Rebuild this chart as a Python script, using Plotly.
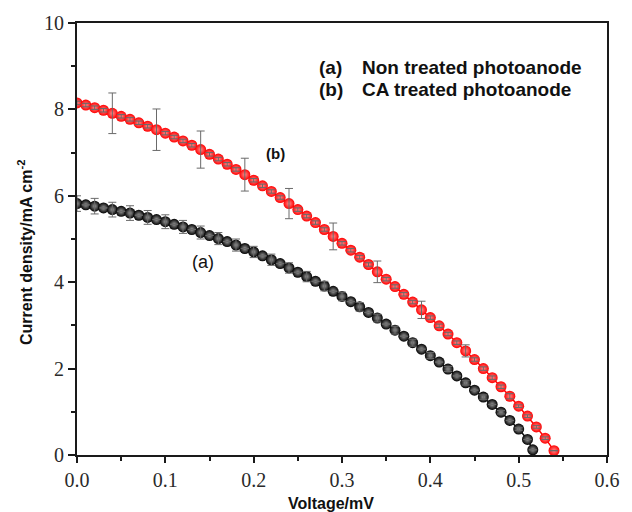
import plotly.graph_objects as go

# (a) Non treated photoanode: J-V points
voltage_a = [0.00, 0.01, 0.02, 0.03, 0.04, 0.05, 0.06, 0.07, 0.08, 0.09,
             0.10, 0.11, 0.12, 0.13, 0.14, 0.15, 0.16, 0.17, 0.18, 0.19,
             0.20, 0.21, 0.22, 0.23, 0.24, 0.25, 0.26, 0.27, 0.28, 0.29,
             0.30, 0.31, 0.32, 0.33, 0.34, 0.35, 0.36, 0.37, 0.38, 0.39,
             0.40, 0.41, 0.42, 0.43, 0.44, 0.45, 0.46, 0.47, 0.48, 0.49,
             0.50, 0.51, 0.516]
current_a = [5.82, 5.79, 5.76, 5.72, 5.68, 5.64, 5.60, 5.55, 5.50, 5.45,
             5.40, 5.34, 5.28, 5.22, 5.15, 5.08, 5.01, 4.94, 4.86, 4.78,
             4.70, 4.61, 4.52, 4.43, 4.33, 4.23, 4.13, 4.02, 3.91, 3.79,
             3.67, 3.55, 3.43, 3.30, 3.17, 3.03, 2.89, 2.75, 2.60, 2.45,
             2.30, 2.15, 1.99, 1.83, 1.67, 1.50, 1.34, 1.17, 0.99, 0.80,
             0.60, 0.36, 0.12]
err_a = [0.18, 0, 0.18, 0, 0.17, 0, 0.17, 0, 0.16, 0,
         0.16, 0, 0.15, 0, 0.15, 0, 0.14, 0, 0.14, 0,
         0.13, 0, 0.13, 0, 0.12, 0, 0.12, 0, 0.11, 0,
         0.10, 0, 0.10, 0, 0.09, 0, 0.09, 0, 0.08, 0,
         0.07, 0, 0.06, 0, 0.05, 0, 0.05, 0, 0.04, 0,
         0.03, 0, 0.0]

# (b) CA treated photoanode: J-V points
voltage_b = [0.00, 0.01, 0.02, 0.03, 0.04, 0.05, 0.06, 0.07, 0.08, 0.09,
             0.10, 0.11, 0.12, 0.13, 0.14, 0.15, 0.16, 0.17, 0.18, 0.19,
             0.20, 0.21, 0.22, 0.23, 0.24, 0.25, 0.26, 0.27, 0.28, 0.29,
             0.30, 0.31, 0.32, 0.33, 0.34, 0.35, 0.36, 0.37, 0.38, 0.39,
             0.40, 0.41, 0.42, 0.43, 0.44, 0.45, 0.46, 0.47, 0.48, 0.49,
             0.50, 0.51, 0.52, 0.53, 0.54]
current_b = [8.15, 8.10, 8.04, 7.98, 7.91, 7.84, 7.77, 7.69, 7.61, 7.53,
             7.45, 7.36, 7.27, 7.17, 7.07, 6.96, 6.85, 6.73, 6.61, 6.49,
             6.36, 6.23, 6.10, 5.96, 5.82, 5.68, 5.53, 5.38, 5.22, 5.06,
             4.90, 4.74, 4.58, 4.41, 4.24, 4.07, 3.90, 3.72, 3.54, 3.36,
             3.18, 2.99, 2.80, 2.60, 2.41, 2.21, 2.00, 1.79, 1.58, 1.36,
             1.13, 0.90, 0.65, 0.39, 0.10]
err_b = [0.04, 0.04, 0.04, 0.04, 0.47, 0.04, 0.04, 0.04, 0.04, 0.48,
         0.04, 0.04, 0.04, 0.04, 0.43, 0.04, 0.04, 0.04, 0.04, 0.38,
         0.04, 0.04, 0.04, 0.04, 0.35, 0.04, 0.04, 0.04, 0.04, 0.31,
         0.04, 0.04, 0.04, 0.04, 0.25, 0.04, 0.04, 0.04, 0.04, 0.20,
         0.04, 0.04, 0.04, 0.04, 0.14, 0.04, 0.04, 0.04, 0.04, 0.06,
         0.03, 0.03, 0.03, 0.03, 0.0]

x_ticks = [0.0, 0.1, 0.2, 0.3, 0.4, 0.5, 0.6]
y_ticks = [0, 2, 4, 6, 8, 10]

SERIF = "Liberation Serif, Times New Roman, serif"
SANS = "Liberation Sans, Arial, sans-serif"
ERR_COLOR = "#6a6a6a"
INK = "#111111"

fig = go.Figure()

# shaded "ball" markers joined by a thin line
fig.add_trace(go.Scatter(
    x=voltage_a, y=current_a, mode="lines+markers",
    line=dict(color="#111111", width=1.5),
    marker=dict(size=11, color="#000000",
                gradient=dict(type="radial", color="#9a9a9a"),
                line=dict(width=0)),
    showlegend=False, hoverinfo="x+y",
))
fig.add_trace(go.Scatter(
    x=voltage_b, y=current_b, mode="lines+markers",
    line=dict(color="#ff0000", width=1.5),
    marker=dict(size=11, color="#ff0000",
                gradient=dict(type="radial", color="#ff8c8c"),
                line=dict(width=0)),
    showlegend=False, hoverinfo="x+y",
))

# error bars drawn above the markers
for vx, vy, ve in ((voltage_a, current_a, err_a), (voltage_b, current_b, err_b)):
    fig.add_trace(go.Scatter(
        x=vx, y=vy, mode="markers",
        marker=dict(size=1, color="rgba(0,0,0,0)"),
        error_y=dict(type="data", array=ve, visible=True,
                     color=ERR_COLOR, thickness=1, width=4),
        showlegend=False, hoverinfo="skip",
    ))

axis_common = dict(
    showline=True, linecolor="#1a1a1a", linewidth=2, mirror=True,
    showgrid=False, zeroline=False,
    ticks="outside", tickcolor="#1a1a1a", tickwidth=1.5,
    tickfont=dict(family=SERIF, size=20, color="#2a2a2a"),
)

fig.update_xaxes(
    range=[0, 0.6], tickvals=x_ticks, ticktext=[f"{v:.1f}" for v in x_ticks],
    ticklen=6,
    minor=dict(dtick=0.05, ticks="outside", ticklen=4, tickcolor="#1a1a1a", tickwidth=1.5),
    **axis_common,
)
fig.update_yaxes(
    range=[0, 10], tickvals=y_ticks, ticktext=[str(v) for v in y_ticks],
    ticklen=7,
    minor=dict(dtick=1, ticks="outside", ticklen=4, tickcolor="#1a1a1a", tickwidth=1.5),
    **axis_common,
)

# (text, x px, y px, size, anchor)
annotations = [
    dict(text="<b>Voltage/mV</b>", x=336, y=503, font=dict(family=SANS, size=16, color=INK)),
    dict(text="<b>Current density/mA cm<sup>-2</sup></b>", x=24, y=252,
         textangle=-90, font=dict(family=SANS, size=16, color=INK)),
    dict(text="<b>(a)</b>", x=322, y=68, xanchor="left", font=dict(family=SANS, size=19, color=INK)),
    dict(text="<b>Non treated photoanode</b>", x=365, y=68, xanchor="left",
         font=dict(family=SANS, size=19, color=INK)),
    dict(text="<b>(b)</b>", x=322, y=90, xanchor="left", font=dict(family=SANS, size=19, color=INK)),
    dict(text="<b>CA treated photoanode</b>", x=365, y=90, xanchor="left",
         font=dict(family=SANS, size=19, color=INK)),
    dict(text="<b>(b)</b>", x=279, y=153, font=dict(family=SANS, size=15, color=INK)),
    dict(text="(a)", x=205, y=262, font=dict(family=SANS, size=18, color=INK)),
]

# annotation positions are given in page pixels; convert to paper fractions
W, H = 632, 512
ML, MR, MT, MB = 77, 15, 23, 57
pw, ph = W - ML - MR, H - MT - MB
for a in annotations:
    a["x"] = (a["x"] - ML) / pw
    a["y"] = 1 - (a["y"] - MT) / ph
    a.setdefault("xanchor", "center")
    a.update(xref="paper", yref="paper", showarrow=False, yanchor="middle")

fig.update_layout(
    width=W, height=H,
    margin=dict(l=ML, r=MR, t=MT, b=MB),
    paper_bgcolor="white", plot_bgcolor="white",
    annotations=annotations,
)

fig.write_html("out.html")
